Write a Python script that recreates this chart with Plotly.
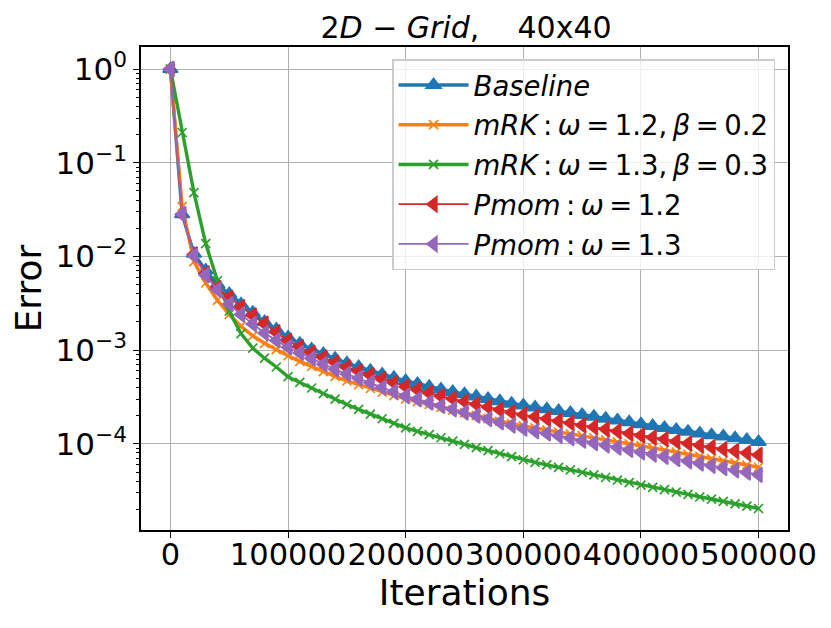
import plotly.graph_objects as go

iterations = [0, 10000, 20000, 30000, 40000, 50000, 60000, 70000, 80000, 90000,
              100000, 110000, 120000, 130000, 140000, 150000, 160000, 170000, 180000, 190000,
              200000, 210000, 220000, 230000, 240000, 250000, 260000, 270000, 280000, 290000,
              300000, 310000, 320000, 330000, 340000, 350000, 360000, 370000, 380000, 390000,
              400000, 410000, 420000, 430000, 440000, 450000, 460000, 470000, 480000, 490000,
              500000]

baseline = [1.0, 0.0282, 0.0107, 0.00708, 0.00501, 0.00398, 0.00309, 0.00251, 0.00200, 0.00166,
            1.37e-3, 1.17e-3, 1.02e-3, 9.12e-4, 8.13e-4, 7.24e-4, 6.61e-4, 6.03e-4, 5.50e-4, 5.07e-4,
            4.68e-4, 4.37e-4, 4.07e-4, 3.80e-4, 3.59e-4, 3.39e-4, 3.20e-4, 3.02e-4, 2.85e-4, 2.69e-4,
            2.57e-4, 2.45e-4, 2.34e-4, 2.24e-4, 2.14e-4, 2.04e-4, 1.95e-4, 1.86e-4, 1.78e-4, 1.70e-4,
            1.62e-4, 1.55e-4, 1.48e-4, 1.41e-4, 1.35e-4, 1.29e-4, 1.24e-4, 1.20e-4, 1.15e-4, 1.10e-4,
            1.05e-4]

mrk_12 = [1.0, 0.034, 0.0088, 0.0052, 0.0034, 0.0024, 0.0018, 0.00142, 0.00118, 0.00101,
          8.7e-4, 7.59e-4, 6.68e-4, 5.89e-4, 5.25e-4, 4.68e-4, 4.27e-4, 3.89e-4, 3.55e-4, 3.27e-4,
          3.02e-4, 2.82e-4, 2.63e-4, 2.45e-4, 2.29e-4, 2.14e-4, 2.00e-4, 1.86e-4, 1.74e-4, 1.64e-4,
          1.55e-4, 1.48e-4, 1.41e-4, 1.34e-4, 1.28e-4, 1.22e-4, 1.16e-4, 1.10e-4, 1.05e-4, 1.00e-4,
          9.55e-5, 9.06e-5, 8.59e-5, 8.15e-5, 7.73e-5, 7.33e-5, 6.95e-5, 6.59e-5, 6.25e-5, 5.93e-5,
          5.62e-5]

mrk_13 = [1.0, 0.21, 0.048, 0.0137, 0.0055, 0.0026, 0.0015, 0.00105, 8.2e-4, 6.6e-4,
          5.2e-4, 4.52e-4, 3.94e-4, 3.43e-4, 3.00e-4, 2.63e-4, 2.33e-4, 2.07e-4, 1.85e-4, 1.65e-4,
          1.48e-4, 1.36e-4, 1.25e-4, 1.16e-4, 1.07e-4, 9.86e-5, 9.12e-5, 8.45e-5, 7.83e-5, 7.28e-5,
          6.76e-5, 6.34e-5, 5.96e-5, 5.60e-5, 5.26e-5, 4.94e-5, 4.65e-5, 4.37e-5, 4.10e-5, 3.86e-5,
          3.63e-5, 3.43e-5, 3.24e-5, 3.05e-5, 2.88e-5, 2.72e-5, 2.57e-5, 2.43e-5, 2.29e-5, 2.16e-5,
          2.04e-5]

pmom_12 = [1.0, 0.0280, 0.0105, 0.0066, 0.00457, 0.00363, 0.00288, 0.00234, 0.00191, 0.00155,
           1.26e-3, 1.08e-3, 9.38e-4, 8.32e-4, 7.38e-4, 6.53e-4, 5.93e-4, 5.40e-4, 4.90e-4, 4.47e-4,
           4.07e-4, 3.77e-4, 3.48e-4, 3.22e-4, 3.02e-4, 2.82e-4, 2.64e-4, 2.47e-4, 2.31e-4, 2.16e-4,
           2.04e-4, 1.94e-4, 1.85e-4, 1.75e-4, 1.67e-4, 1.58e-4, 1.51e-4, 1.43e-4, 1.36e-4, 1.29e-4,
           1.23e-4, 1.17e-4, 1.12e-4, 1.06e-4, 1.01e-4, 9.66e-5, 9.20e-5, 8.77e-5, 8.36e-5, 7.96e-5,
           7.59e-5]

pmom_13 = [1.0, 0.0283, 0.0102, 0.0063, 0.0044, 0.0031, 0.0024, 0.0019, 0.00152, 0.00127,
           1.07e-3, 9.33e-4, 8.13e-4, 7.08e-4, 6.24e-4, 5.56e-4, 5.01e-4, 4.47e-4, 3.98e-4, 3.59e-4,
           3.24e-4, 2.99e-4, 2.75e-4, 2.54e-4, 2.34e-4, 2.16e-4, 2.00e-4, 1.84e-4, 1.70e-4, 1.57e-4,
           1.45e-4, 1.36e-4, 1.29e-4, 1.22e-4, 1.15e-4, 1.08e-4, 1.02e-4, 9.66e-5, 9.12e-5, 8.61e-5,
           8.13e-5, 7.69e-5, 7.28e-5, 6.89e-5, 6.52e-5, 6.17e-5, 5.83e-5, 5.52e-5, 5.22e-5, 4.94e-5,
           4.68e-5]

y_tickvals = [1, 0.1, 0.01, 0.001, 0.0001]
y_ticktext = ["10<sup>0</sup>", "10<sup>\u22121</sup>", "10<sup>\u22122</sup>",
              "10<sup>\u22123</sup>", "10<sup>\u22124</sup>"]
x_tickvals = [0, 100000, 200000, 300000, 400000, 500000]
x_ticktext = ["0", "100000", "200000", "300000", "400000", "500000"]

# minor log ticks 2..9 per decade
minor_vals = []
for e in range(-5, 1):
    for m in range(2, 10):
        minor_vals.append(m * 10.0 ** e)

ts = "\u2009"  # thin space, closer to mathtext spacing
series = [
    ("<i>Baseline</i>", baseline, "#1f77b4", "triangle-up", 13, 3.4),
    ("<i>mRK</i>" + ts + ":" + ts + "<i>\u03c9</i>" + ts + "=" + ts + "1.2," + ts + "<i>\u03b2</i>" + ts + "=" + ts + "0.2",
     mrk_12, "#ff7f0e", "x-thin", 9, 3.4),
    ("<i>mRK</i>" + ts + ":" + ts + "<i>\u03c9</i>" + ts + "=" + ts + "1.3," + ts + "<i>\u03b2</i>" + ts + "=" + ts + "0.3",
     mrk_13, "#2ca02c", "x-thin", 9, 3.4),
    ("<i>Pmom</i>" + ts + ":" + ts + "<i>\u03c9</i>" + ts + "=" + ts + "1.2", pmom_12, "#d62728", "triangle-left", 13, 1.8),
    ("<i>Pmom</i>" + ts + ":" + ts + "<i>\u03c9</i>" + ts + "=" + ts + "1.3", pmom_13, "#9467bd", "triangle-left", 13, 1.8),
]

fig = go.Figure()
for i, (name, vals, color, sym, msize, lw) in enumerate(series):
    fig.add_trace(go.Scatter(
        x=iterations, y=vals, name=name, mode="lines+markers", legendgroup=str(i),
        line=dict(color=color, width=lw),
        marker=dict(symbol=sym, size=msize, color=color,
                    line=dict(color=color, width=1.7)),
    ))

# page body has an 8px margin, so the figure is 8px smaller and margins shifted
fig.update_layout(
    width=823, height=620,
    margin=dict(l=133, r=43, t=39, b=98),
    paper_bgcolor="white", plot_bgcolor="white",
    font=dict(family="DejaVu Sans", color="black"),
    title=dict(text="2<i>D</i> \u2212 <i>Grid</i>,\u00a0\u00a0\u00a0\u00a040x40",
               x=0.5565, xanchor="center", y=0.969, yanchor="middle",
               font=dict(size=30)),
    legend=dict(x=0.98, xanchor="right", y=0.975, yanchor="top",
                bgcolor="rgba(255,255,255,0.8)", bordercolor="#cccccc", borderwidth=1.5,
                font=dict(size=27.5), itemwidth=70, tracegroupgap=1),
)

fig.update_xaxes(
    range=[-25000, 525000], tickvals=x_tickvals, ticktext=x_ticktext, tickangle=0,
    showgrid=True, gridcolor="#b0b0b0", gridwidth=1.4,
    showline=True, mirror=True, linecolor="black", linewidth=1.5,
    ticks="outside", ticklen=6, tickcolor="black", tickfont=dict(size=30.5),
    ticklabelstandoff=-9,
    title=dict(text="Iterations", font=dict(size=36), standoff=2),
    zeroline=False,
)
fig.update_yaxes(
    type="log", range=[-4.92, 0.235], tickvals=y_tickvals, ticktext=y_ticktext,
    showgrid=True, gridcolor="#b0b0b0", gridwidth=1.4,
    showline=True, mirror=True, linecolor="black", linewidth=1.5,
    ticks="outside", ticklen=6, tickcolor="black", tickfont=dict(size=31),
    minor=dict(tickvals=minor_vals, ticks="outside", ticklen=3.5, tickcolor="black", showgrid=False),
    title=dict(text="Error", font=dict(size=36), standoff=8),
    zeroline=False,
)

fig.write_html("out.html")
